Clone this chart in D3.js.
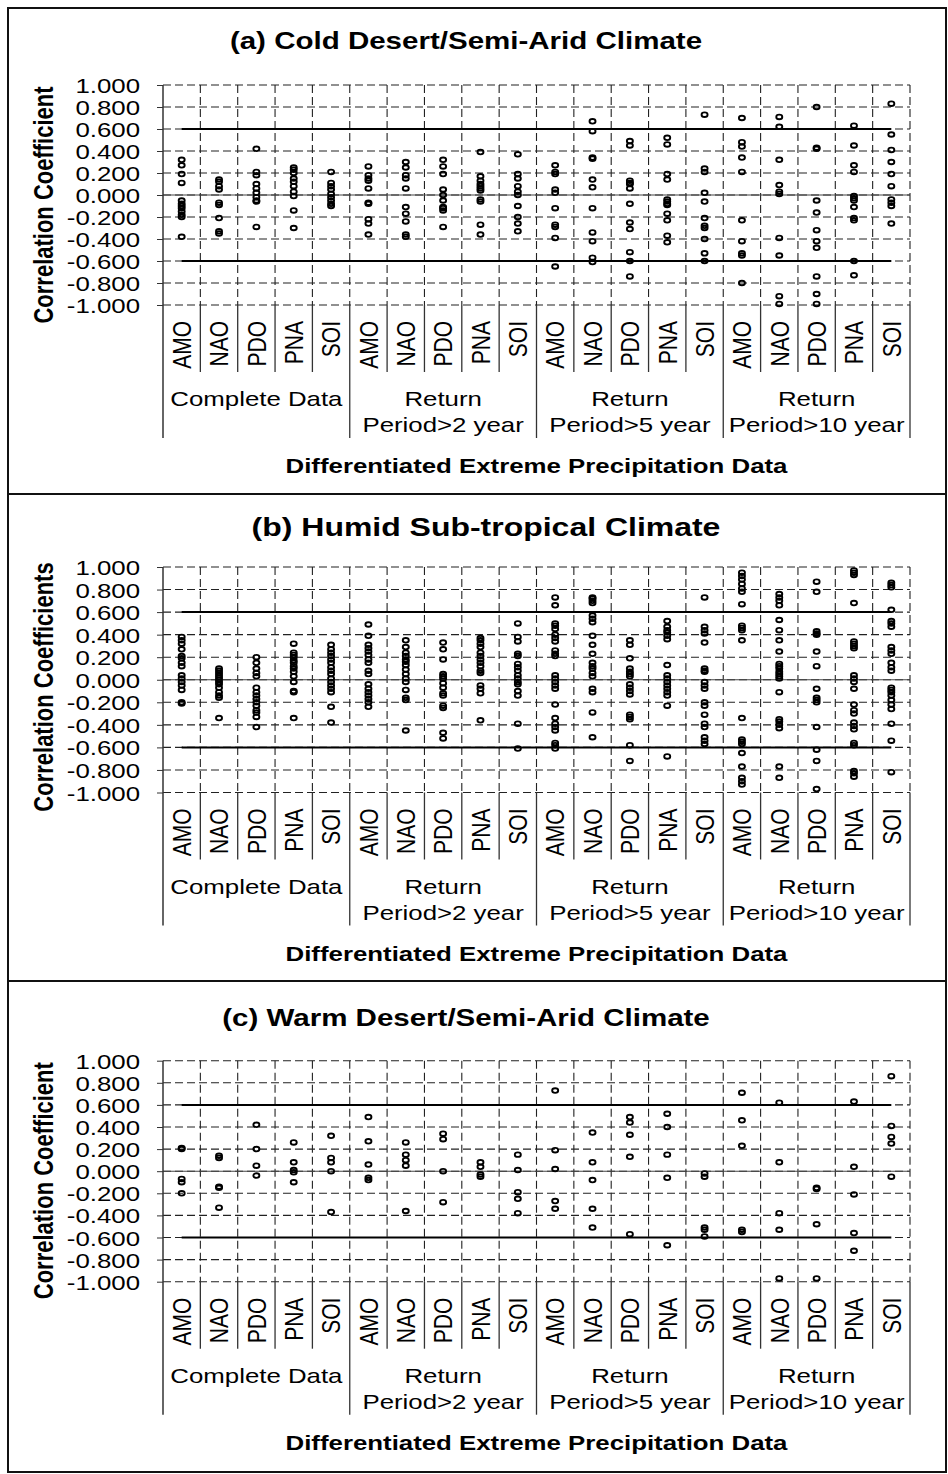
<!DOCTYPE html>
<html>
<head>
<meta charset="utf-8">
<script src="https://cdn.jsdelivr.net/npm/d3@7"></script>
<style>
  body { margin: 0; background: #fff; }
  svg { display: block; }
  text { font-family: "Liberation Sans", Arial, sans-serif; fill: #000; }
</style>
</head>
<body>
<svg id="chart" width="948" height="1474"></svg>
<script>
// ---- data ----
const indices = ["AMO", "NAO", "PDO", "PNA", "SOI"];
const groups = [["Complete Data"], ["Return", "Period>2 year"], ["Return", "Period>5 year"], ["Return", "Period>10 year"]];
const yTicks = [1, 0.8, 0.6, 0.4, 0.2, 0, -0.2, -0.4, -0.6, -0.8, -1];
const thresholds = [0.6, -0.6];
const titles = ["(a) Cold Desert/Semi-Arid Climate", "(b) Humid Sub-tropical Climate", "(c) Warm Desert/Semi-Arid Climate"];
const yTitles = ["Correlation Coefficient", "Correlation Coefficients", "Correlation Coefficient"];
const xTitle = "Differentiated Extreme Precipitation Data";

// one array of correlation values per category (5 indices x 4 groups)
const coldDesert = [
  [0.32, 0.27, 0.19, 0.11, -0.05, -0.08, -0.10, -0.12, -0.15, -0.18, -0.20, -0.38],
  [0.14, 0.12, 0.08, 0.05, -0.07, -0.09, -0.21, -0.33, -0.35],
  [0.42, 0.21, 0.18, 0.10, 0.06, 0.02, -0.02, -0.05, -0.06, -0.29],
  [0.25, 0.23, 0.20, 0.15, 0.12, 0.08, 0.03, -0.01, -0.14, -0.30],
  [0.21, 0.11, 0.08, 0.05, 0.01, -0.02, -0.05, -0.08, -0.10],
  [0.26, 0.18, 0.15, 0.13, 0.06, -0.07, -0.08, -0.22, -0.26, -0.36],
  [0.30, 0.25, 0.18, 0.15, 0.06, -0.11, -0.17, -0.24, -0.36, -0.38],
  [0.32, 0.26, 0.19, 0.05, 0.00, -0.05, -0.11, -0.12, -0.14, -0.29],
  [0.39, 0.17, 0.13, 0.10, 0.08, 0.06, 0.04, -0.04, -0.06, -0.27, -0.36],
  [0.37, 0.19, 0.15, 0.08, 0.03, 0.00, -0.10, -0.20, -0.26, -0.33],
  [0.27, 0.21, 0.19, 0.05, 0.02, -0.12, -0.27, -0.29, -0.39, -0.65],
  [0.67, 0.58, 0.34, 0.33, 0.14, 0.07, -0.12, -0.34, -0.42, -0.57, -0.61],
  [0.49, 0.45, 0.13, 0.11, 0.10, 0.06, -0.08, -0.25, -0.31, -0.52, -0.60, -0.74],
  [0.52, 0.46, 0.19, 0.14, -0.04, -0.06, -0.08, -0.09, -0.17, -0.23, -0.37, -0.43],
  [0.73, 0.24, 0.21, 0.02, -0.06, -0.21, -0.28, -0.30, -0.40, -0.53, -0.60],
  [0.70, 0.48, 0.44, 0.34, 0.21, -0.23, -0.42, -0.53, -0.55, -0.80],
  [0.71, 0.62, 0.32, 0.09, 0.03, 0.01, -0.39, -0.55, -0.92, -0.99],
  [0.80, 0.43, 0.42, -0.05, -0.16, -0.32, -0.42, -0.48, -0.74, -0.90, -0.99],
  [0.63, 0.45, 0.27, 0.21, -0.01, -0.03, -0.05, -0.11, -0.21, -0.23, -0.60, -0.73],
  [0.83, 0.55, 0.41, 0.30, 0.19, 0.08, -0.04, -0.07, -0.10, -0.26]
];
const humidSubtropical = [
  [0.38, 0.35, 0.32, 0.27, 0.21, 0.19, 0.15, 0.12, 0.04, 0.01, -0.02, -0.05, -0.09, -0.20, -0.21],
  [0.10, 0.08, 0.06, 0.04, 0.02, 0.00, -0.02, -0.04, -0.07, -0.11, -0.14, -0.16, -0.34],
  [0.20, 0.15, 0.10, 0.06, 0.03, -0.07, -0.11, -0.14, -0.17, -0.20, -0.23, -0.27, -0.29, -0.33, -0.42],
  [0.32, 0.24, 0.22, 0.20, 0.17, 0.15, 0.12, 0.10, 0.07, 0.03, -0.02, -0.10, -0.11, -0.34],
  [0.31, 0.27, 0.24, 0.21, 0.18, 0.15, 0.11, 0.08, 0.05, 0.01, -0.02, -0.05, -0.08, -0.11, -0.24, -0.38],
  [0.49, 0.39, 0.31, 0.28, 0.25, 0.22, 0.18, 0.15, 0.08, 0.05, -0.04, -0.08, -0.11, -0.14, -0.17, -0.20, -0.24],
  [0.35, 0.29, 0.24, 0.21, 0.18, 0.16, 0.13, 0.09, 0.05, 0.01, -0.02, -0.09, -0.16, -0.18, -0.45],
  [0.33, 0.27, 0.18, 0.05, 0.03, 0.01, -0.03, -0.07, -0.12, -0.14, -0.23, -0.25, -0.47, -0.52],
  [0.37, 0.35, 0.32, 0.29, 0.24, 0.21, 0.18, 0.15, 0.12, 0.08, 0.06, -0.05, -0.08, -0.12, -0.36],
  [0.50, 0.38, 0.34, 0.23, 0.21, 0.14, 0.11, 0.08, 0.04, 0.01, -0.02, -0.04, -0.10, -0.14, -0.39, -0.61],
  [0.73, 0.66, 0.50, 0.48, 0.45, 0.40, 0.37, 0.34, 0.26, 0.23, 0.21, 0.04, 0.01, -0.02, -0.05, -0.08, -0.22, -0.34, -0.39, -0.42, -0.45, -0.56, -0.58, -0.61],
  [0.73, 0.72, 0.70, 0.68, 0.57, 0.54, 0.51, 0.39, 0.31, 0.23, 0.15, 0.12, 0.10, 0.06, 0.03, -0.08, -0.11, -0.29, -0.51],
  [0.35, 0.31, 0.19, 0.10, 0.07, 0.05, 0.03, -0.04, -0.07, -0.10, -0.13, -0.31, -0.33, -0.35, -0.58, -0.72],
  [0.52, 0.47, 0.44, 0.42, 0.39, 0.36, 0.13, 0.04, 0.01, -0.02, -0.05, -0.08, -0.11, -0.14, -0.23, -0.68],
  [0.73, 0.47, 0.44, 0.41, 0.33, 0.10, 0.08, 0.07, -0.02, -0.05, -0.08, -0.20, -0.23, -0.31, -0.39, -0.42, -0.51, -0.54, -0.57],
  [0.95, 0.92, 0.89, 0.85, 0.81, 0.78, 0.67, 0.48, 0.46, 0.44, 0.35, -0.34, -0.53, -0.55, -0.57, -0.65, -0.77, -0.87, -0.90, -0.93],
  [0.76, 0.73, 0.70, 0.66, 0.53, 0.44, 0.35, 0.25, 0.14, 0.12, 0.10, 0.07, 0.05, 0.03, 0.01, -0.11, -0.35, -0.37, -0.40, -0.43, -0.77, -0.87],
  [0.87, 0.78, 0.43, 0.41, 0.40, 0.25, 0.12, -0.08, -0.16, -0.18, -0.20, -0.42, -0.62, -0.72, -0.97],
  [0.97, 0.95, 0.93, 0.68, 0.34, 0.32, 0.30, 0.28, 0.04, 0.01, -0.02, -0.08, -0.22, -0.27, -0.30, -0.38, -0.41, -0.44, -0.56, -0.58, -0.81, -0.83, -0.86],
  [0.86, 0.84, 0.82, 0.62, 0.52, 0.50, 0.47, 0.29, 0.26, 0.23, 0.15, 0.11, 0.08, -0.07, -0.09, -0.11, -0.14, -0.18, -0.22, -0.26, -0.39, -0.54, -0.82]
];
const warmDesert = [
  [0.21, 0.20, -0.07, -0.10, -0.20],
  [0.14, 0.12, -0.14, -0.15, -0.33],
  [0.42, 0.20, 0.05, -0.04],
  [0.26, 0.08, 0.01, -0.01, -0.10],
  [0.32, 0.12, 0.08, 0.00, -0.37],
  [0.49, 0.27, 0.06, -0.06, -0.08],
  [0.26, 0.15, 0.10, 0.05, -0.36],
  [0.34, 0.29, 0.00, -0.28],
  [0.08, 0.04, -0.03, -0.05],
  [0.15, 0.01, -0.19, -0.25, -0.38],
  [0.73, 0.19, 0.02, -0.27, -0.34],
  [0.35, 0.08, -0.08, -0.34, -0.51],
  [0.49, 0.44, 0.33, 0.13, -0.57],
  [0.52, 0.40, 0.15, -0.06, -0.67],
  [-0.02, -0.05, -0.51, -0.53, -0.59],
  [0.71, 0.46, 0.23, -0.53, -0.55],
  [0.62, 0.08, -0.38, -0.53, -0.97],
  [-0.15, -0.16, -0.48, -0.97],
  [0.63, 0.04, -0.21, -0.56, -0.72],
  [0.86, 0.41, 0.31, 0.25, -0.05]
];

// ---- layout ----
const W = 948, H = 1474;
const X0 = 163, X1 = 910;
const SX = 1.23; // the picture is wider than tall, text is stretched with it
const categories = groups.flatMap((g, gi) => indices.map(n => ({ group: gi, name: n })));

const panels = [
  { title: titles[0], yTitle: yTitles[0], values: coldDesert,       titleX: 466, titleSize: 24, titleY: 49,   top: 85,     h: 220 },
  { title: titles[1], yTitle: yTitles[1], values: humidSubtropical, titleX: 486, titleSize: 26, titleY: 536,  top: 567,    h: 225.5 },
  { title: titles[2], yTitle: yTitles[2], values: warmDesert,       titleX: 466, titleSize: 24, titleY: 1026, top: 1060.7, h: 221 }
];
const panelLines = [494, 981];

const svg = d3.select("#chart");
svg.append("rect").attr("width", W).attr("height", H).attr("fill", "#fff");

function draw(p) {
  const g = svg.append("g");
  const x = d3.scaleBand().domain(d3.range(categories.length)).range([X0, X1]);
  const y = d3.scaleLinear().domain([-1, 1]).range([p.top + p.h, p.top]);
  const bottom = p.top + p.h;
  const cx = i => x(i) + x.bandwidth() / 2;
  const edges = d3.range(categories.length + 1).map(i => i < categories.length ? x(i) : X1);

  // dashed grid
  g.selectAll(".hgrid").data(yTicks).join("line")
    .attr("x1", X0).attr("x2", X1)
    .attr("y1", d => y(d)).attr("y2", d => y(d))
    .attr("stroke", "#222").attr("stroke-width", 1.1).attr("stroke-dasharray", "8,4");
  g.selectAll(".vgrid").data(edges.slice(1)).join("line")
    .attr("x1", d => d).attr("x2", d => d)
    .attr("y1", p.top).attr("y2", bottom)
    .attr("stroke", "#222").attr("stroke-width", 1.1).attr("stroke-dasharray", "8,4");

  // zero axis
  g.append("line").attr("x1", X0).attr("x2", X1).attr("y1", y(0)).attr("y2", y(0))
    .attr("stroke", "#444").attr("stroke-width", 1.1);

  // +-0.6 lines, from first to last category centre
  g.selectAll(".thr").data(thresholds).join("line")
    .attr("x1", cx(0)).attr("x2", cx(categories.length - 1))
    .attr("y1", d => y(d)).attr("y2", d => y(d))
    .attr("stroke", "#000").attr("stroke-width", 2);

  // y axis
  const axis = g.append("g").attr("transform", `translate(${X0},0)`)
    .call(d3.axisLeft(y).tickValues(yTicks).tickSize(6).tickFormat(d => d.toFixed(3)));
  axis.attr("font-family", null).attr("font-size", null);
  axis.select(".domain").remove();
  axis.selectAll(".tick line").attr("stroke", "#333");
  axis.selectAll(".tick text")
    .attr("x", -23 / SX).attr("dy", "0.36em")
    .attr("transform", `scale(${SX},1)`)
    .style("font-size", "21px");
  g.append("line").attr("x1", X0).attr("x2", X0).attr("y1", p.top).attr("y2", bottom + 133)
    .attr("stroke", "#333").attr("stroke-width", 1.5);

  // category label separators
  g.selectAll(".sep").data(edges.slice(1)).join("line")
    .attr("x1", d => d).attr("x2", d => d)
    .attr("y1", bottom).attr("y2", (d, i) => (i + 1) % indices.length === 0 ? bottom + 133 : bottom + 67)
    .attr("stroke", "#333").attr("stroke-width", 1.3);

  // category labels
  g.selectAll(".cat").data(categories).join("text")
    .attr("transform", (d, i) => `translate(${cx(i)},${bottom + 16}) scale(${SX},1) rotate(-90)`)
    .attr("text-anchor", "end").attr("dy", "0.36em")
    .style("font-size", "21px")
    .text(d => d.name);

  // group labels
  groups.forEach((lines, gi) => {
    const gx = (edges[gi * indices.length] + edges[(gi + 1) * indices.length]) / 2;
    lines.forEach((t, li) => {
      g.append("text")
        .attr("transform", `translate(${gx},${bottom + 101 + li * 26}) scale(${SX},1)`)
        .attr("text-anchor", "middle").style("font-size", "21px")
        .text(t);
    });
  });

  // titles
  g.append("text")
    .attr("transform", `translate(${(X0 + X1) / 2},${bottom + 168}) scale(${SX},1)`)
    .attr("text-anchor", "middle").style("font-size", "21px").style("font-weight", "bold")
    .text(xTitle);
  g.append("text")
    .attr("transform", `translate(53,${p.top + 120}) scale(${SX},1) rotate(-90)`)
    .attr("text-anchor", "middle").style("font-size", "22px").style("font-weight", "bold")
    .text(p.yTitle);
  g.append("text")
    .attr("transform", `translate(${p.titleX},${p.titleY}) scale(${SX},1)`)
    .attr("text-anchor", "middle").style("font-size", p.titleSize + "px").style("font-weight", "bold")
    .text(p.title);

  // points
  const pts = p.values.flatMap((vals, i) => vals.map(v => ({ i, v })));
  g.selectAll(".pt").data(pts).join("ellipse")
    .attr("cx", d => cx(d.i)).attr("cy", d => y(d.v))
    .attr("rx", 3).attr("ry", 2.3)
    .attr("fill", "none").attr("stroke", "#000").attr("stroke-width", 1.9);
}

panels.forEach(draw);

// frame
svg.selectAll(".pline").data(panelLines).join("line")
  .attr("x1", 8).attr("x2", 946).attr("y1", d => d).attr("y2", d => d)
  .attr("stroke", "#111").attr("stroke-width", 2);
svg.append("rect").attr("x", 8).attr("y", 8).attr("width", 938).attr("height", 1464)
  .attr("fill", "none").attr("stroke", "#111").attr("stroke-width", 2);
</script>
</body>
</html>
